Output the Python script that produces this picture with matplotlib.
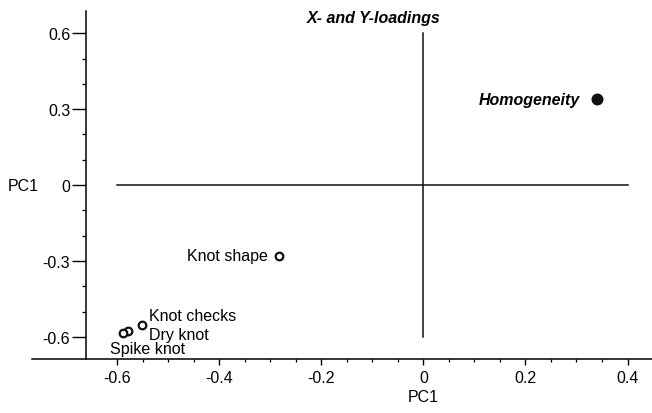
import matplotlib
matplotlib.use("Agg")
import matplotlib.pyplot as plt
from matplotlib.ticker import FixedLocator, FormatStrFormatter
import numpy as np

plt.rcParams['font.family'] = ['Liberation Sans', 'DejaVu Sans']
plt.rcParams['axes.unicode_minus'] = False

# loadings
names = ['Homogeneity', 'Knot shape', 'Knot checks', 'Dry knot', 'Spike knot']
pc_x = [0.340, -0.283, -0.551, -0.578, -0.588]
pc_y = [0.340, -0.281, -0.551, -0.578, -0.586]
filled = [True, False, False, False, False]

xticks = [-0.6, -0.4, -0.2, 0, 0.2, 0.4]
yticks = [-0.6, -0.3, 0, 0.3, 0.6]

fig = plt.figure(figsize=(6.52, 4.14), dpi=100)
ax = fig.add_axes([0.049, 0.130, 0.951, 0.841])
ax.set_xlim(-0.767, 0.448)
ax.set_ylim(-0.688, 0.688)

# cross through the origin
ax.plot([0, 0], [yticks[0], yticks[-1]], color='#111111', lw=1.1)
ax.plot([xticks[0], xticks[-1]], [0, 0], color='#111111', lw=1.1)

for x, y, f in zip(pc_x, pc_y, filled):
    ax.plot(x, y, 'o', ms=7 if f else 5.5, mfc='#111111' if f else 'white',
            mec='#111111', mew=1.6, zorder=3)

fs = 11.5
ax.text(pc_x[0] - 0.033, pc_y[0], names[0], ha='right', va='center',
        fontsize=fs, fontweight='bold', fontstyle='italic')
ax.text(pc_x[1] - 0.022, pc_y[1] + 0.004, names[1], ha='right', va='center', fontsize=fs)
ax.text(pc_x[2] + 0.013, pc_y[2] + 0.037, names[2], ha='left', va='center', fontsize=fs)
ax.text(pc_x[3] + 0.04, pc_y[3] - 0.012, names[3], ha='left', va='center', fontsize=fs)
ax.text(pc_x[4] - 0.027, pc_y[4] - 0.059, names[4], ha='left', va='center', fontsize=fs)

ax.text(-0.097, 0.664, 'X- and Y-loadings', ha='center', va='center',
        fontsize=fs, fontweight='bold', fontstyle='italic')

for s in ['top', 'right']:
    ax.spines[s].set_visible(False)
ax.spines['left'].set_position(('data', -0.662))
ax.spines['left'].set_linewidth(1.1)
ax.spines['bottom'].set_linewidth(1.1)

ax.set_xticks(xticks)
ax.set_yticks(yticks)
ax.xaxis.set_minor_locator(FixedLocator(np.arange(-0.6, 0.41, 0.05)))
ax.yaxis.set_minor_locator(FixedLocator(np.arange(-0.6, 0.61, 0.1)))
ax.xaxis.set_major_formatter(FormatStrFormatter('%g'))
ax.yaxis.set_major_formatter(FormatStrFormatter('%g'))
ax.tick_params(axis='x', which='major', length=4.3, width=1.0, pad=3.5, labelsize=fs)
ax.tick_params(axis='x', which='minor', length=2.2, width=0.9)
ax.tick_params(axis='y', which='major', length=10, width=1.0, pad=1, labelsize=fs)
ax.tick_params(axis='y', which='minor', length=3, width=0.9)

ax.text(0, -0.835, 'PC1', ha='center', va='center', fontsize=fs)
ax.text(-0.815, 0, 'PC1', ha='left', va='center', fontsize=fs)

fig.savefig('out.png', dpi=100)
